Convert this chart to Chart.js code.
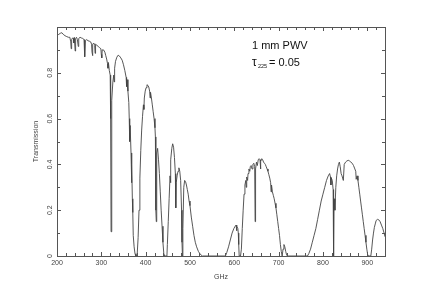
<!DOCTYPE html>
<html>
<head>
<meta charset="utf-8">
<script src="https://cdn.jsdelivr.net/npm/chart.js@4"></script>
<style>
  html, body { margin: 0; padding: 0; background: #fff; }
  canvas { display: block; }
</style>
</head>
<body>
<canvas id="atmChart" width="424" height="307"></canvas>
<script>
// transmission, one pair of arrays per window (GHz, fraction)
const band1Freq = [200, 204, 208, 211, 214, 218, 222, 226, 229, 231, 232, 233, 235, 237, 238, 239, 241, 242, 244, 246, 248, 249, 252, 255, 258, 261, 262, 263, 264, 267, 270, 273, 276, 278, 279, 280, 281, 283, 285, 286, 287, 290, 293, 296, 299, 300, 301, 302, 305, 308, 310, 312, 314, 315, 316, 318, 320, 321, 322, 323, 324, 326, 328, 329, 330, 332, 335, 338, 341, 344, 347, 350, 353, 356, 357, 358, 360, 362, 363, 364, 365, 367, 368, 369, 370, 371, 372, 374, 376, 378];
const band1Trans = [0.962, 0.968, 0.973, 0.975, 0.968, 0.962, 0.958, 0.955, 0.955, 0.935, 0.905, 0.945, 0.952, 0.95, 0.93, 0.955, 0.895, 0.95, 0.955, 0.945, 0.915, 0.95, 0.955, 0.952, 0.95, 0.945, 0.905, 0.87, 0.94, 0.945, 0.94, 0.938, 0.935, 0.925, 0.89, 0.875, 0.925, 0.93, 0.92, 0.885, 0.925, 0.92, 0.915, 0.91, 0.905, 0.88, 0.865, 0.9, 0.9, 0.89, 0.875, 0.86, 0.84, 0.82, 0.845, 0.81, 0.79, 0.6, 0.106, 0.45, 0.68, 0.76, 0.79, 0.76, 0.82, 0.85, 0.868, 0.877, 0.873, 0.865, 0.855, 0.835, 0.81, 0.78, 0.74, 0.77, 0.72, 0.67, 0.6, 0.5, 0.57, 0.45, 0.32, 0.4, 0.25, 0.19, 0.09, 0.04, 0.01, 0];

const band2Freq = [380, 381, 383, 385, 387, 389, 391, 393, 395, 396, 397, 399, 401, 403, 405, 407, 409, 410, 411, 413, 415, 417, 419, 421, 422, 423, 424, 425, 427, 429, 431, 433, 435, 437, 439, 441, 443, 448, 449, 451, 453, 455, 456, 457, 459, 461, 463, 465, 467, 468, 469, 471, 473, 475, 477, 479, 481, 482, 483, 484, 486, 488, 490, 492, 494, 496, 498, 500, 503, 506, 509, 512, 515, 519, 523, 528];
const band2Trans = [0, 0.01, 0.08, 0.2, 0.34, 0.46, 0.55, 0.61, 0.66, 0.64, 0.69, 0.72, 0.735, 0.748, 0.745, 0.738, 0.72, 0.69, 0.715, 0.69, 0.66, 0.63, 0.6, 0.56, 0.52, 0.2, 0.15, 0.45, 0.47, 0.42, 0.36, 0.28, 0.2, 0.13, 0.06, 0.01, 0, 0, 0.05, 0.15, 0.25, 0.35, 0.32, 0.42, 0.47, 0.49, 0.475, 0.43, 0.36, 0.21, 0.32, 0.35, 0.37, 0.385, 0.37, 0.33, 0.2, 0.06, 0, 0.12, 0.3, 0.33, 0.325, 0.31, 0.29, 0.27, 0.24, 0.22, 0.17, 0.13, 0.09, 0.06, 0.04, 0.02, 0.008, 0];

const band3Freq = [580, 583, 587, 591, 595, 599, 602, 604, 605, 606, 608, 609, 610, 611, 614, 616, 618, 620, 622, 624, 626, 627, 628, 630, 631, 633, 635, 636, 638, 640, 642, 644, 646, 647, 648, 650, 652, 654, 656, 658, 659, 660, 662, 664, 666, 668, 670, 672, 674, 676, 678, 680, 682, 683, 684, 686, 688, 690, 692, 694, 696, 698, 700, 702, 704, 706, 708, 710, 712, 714, 716, 718, 720];
const band3Trans = [0, 0.015, 0.04, 0.07, 0.1, 0.12, 0.13, 0.135, 0.11, 0.13, 0.12, 0.1, 0.05, 0, 0, 0.03, 0.12, 0.2, 0.27, 0.31, 0.33, 0.3, 0.345, 0.33, 0.36, 0.38, 0.37, 0.39, 0.395, 0.38, 0.4, 0.405, 0.39, 0.15, 0.38, 0.41, 0.395, 0.42, 0.425, 0.42, 0.38, 0.415, 0.425, 0.42, 0.41, 0.405, 0.4, 0.39, 0.38, 0.37, 0.355, 0.34, 0.32, 0.28, 0.31, 0.28, 0.265, 0.25, 0.23, 0.21, 0.18, 0.15, 0.12, 0.09, 0.05, 0.02, 0, 0.03, 0.05, 0.04, 0.02, 0.005, 0];

const band4Freq = [765, 768, 772, 776, 780, 784, 788, 792, 796, 800, 804, 808, 812, 815, 817, 818, 819, 821, 823, 824, 825, 827, 829, 831, 833, 835, 837, 839, 841, 843, 846, 848, 851, 854, 857, 860, 863, 866, 869, 872, 874, 875, 877, 879, 881, 883, 885, 887, 889, 891, 893, 895, 897, 899, 901, 903, 908, 910, 912, 914, 916, 918, 920, 923, 926, 929, 932, 935, 938, 940];
const band4Trans = [0, 0.01, 0.03, 0.06, 0.09, 0.12, 0.16, 0.2, 0.24, 0.27, 0.3, 0.33, 0.35, 0.36, 0.345, 0.31, 0.34, 0.33, 0.29, 0, 0.25, 0.2, 0.3, 0.35, 0.38, 0.4, 0.41, 0.39, 0.36, 0.35, 0.33, 0.4, 0.41, 0.415, 0.418, 0.415, 0.41, 0.405, 0.395, 0.38, 0.37, 0.335, 0.35, 0.33, 0.3, 0.27, 0.24, 0.21, 0.18, 0.15, 0.12, 0.09, 0.06, 0.03, 0.005, 0, 0, 0.03, 0.07, 0.1, 0.125, 0.14, 0.155, 0.16, 0.158, 0.15, 0.135, 0.12, 0.1, 0.084];

const xTickValues = [200, 300, 400, 500, 600, 700, 800, 900];
const yTickValues = [0, 0.2, 0.4, 0.6, 0.8];

const freqGHz = band1Freq.concat(band2Freq, band3Freq, band4Freq);
const transmission = band1Trans.concat(band2Trans, band3Trans, band4Trans);
const points = freqGHz.map((f, i) => ({ x: f, y: transmission[i] }));

// frame, inward ticks, labels and the note in the corner
const framePlugin = {
  id: 'frame',
  afterDraw(chart) {
    const ctx = chart.ctx;
    const a = chart.chartArea;
    const xs = chart.scales.x;
    const ys = chart.scales.y;
    ctx.save();
    ctx.strokeStyle = '#555';
    ctx.lineWidth = 1;
    ctx.strokeRect(a.left + 0.5, a.top + 0.5, a.right - a.left, a.bottom - a.top);

    ctx.beginPath();
    for (let v = 200; v <= 940; v += 20) {
      const px = Math.round(xs.getPixelForValue(v)) + 0.5;
      const len = v % 100 === 0 ? 4 : 3;
      ctx.moveTo(px, a.bottom); ctx.lineTo(px, a.bottom - len);
      ctx.moveTo(px, a.top); ctx.lineTo(px, a.top + len);
    }
    for (let i = 0; i <= 9; i++) {
      const py = Math.round(ys.getPixelForValue(i / 10)) + 0.5;
      const len = i % 2 === 0 ? 4 : 3;
      ctx.moveTo(a.left, py); ctx.lineTo(a.left + len, py);
      ctx.moveTo(a.right, py); ctx.lineTo(a.right - len, py);
    }
    ctx.stroke();

    ctx.fillStyle = '#444';
    ctx.font = '7px "Liberation Sans", Arial, sans-serif';
    ctx.textAlign = 'center';
    ctx.textBaseline = 'middle';
    xTickValues.forEach(v => {
      ctx.fillText(String(v), xs.getPixelForValue(v), a.bottom + 7);
    });
    yTickValues.forEach(v => {
      ctx.save();
      ctx.translate(a.left - 7, ys.getPixelForValue(v));
      ctx.rotate(-Math.PI / 2);
      ctx.fillText(String(v), 0, 0);
      ctx.restore();
    });

    ctx.fillText('GHz', (a.left + a.right) / 2, 277);
    ctx.save();
    ctx.translate(36, (a.top + a.bottom) / 2);
    ctx.rotate(-Math.PI / 2);
    ctx.fillText('Transmission', 0, 0);
    ctx.restore();

    ctx.fillStyle = '#111';
    ctx.textAlign = 'left';
    ctx.textBaseline = 'alphabetic';
    ctx.font = '11px "Liberation Sans", Arial, sans-serif';
    ctx.fillText('1 mm PWV', 252, 49);
    ctx.font = '12px "Liberation Sans", Arial, sans-serif';
    ctx.fillText('\u03c4', 252, 66);
    ctx.font = '5.5px "Liberation Sans", Arial, sans-serif';
    ctx.fillText('225', 258, 68);
    ctx.font = '11px "Liberation Sans", Arial, sans-serif';
    ctx.fillText('= 0.05', 269, 66);
    ctx.restore();
  }
};

new Chart(document.getElementById('atmChart').getContext('2d'), {
  type: 'line',
  data: {
    datasets: [{
      data: points,
      borderColor: '#444',
      borderWidth: 0.9,
      pointRadius: 0,
      tension: 0,
      fill: false
    }]
  },
  options: {
    responsive: false,
    animation: false,
    devicePixelRatio: 1,
    layout: { padding: { top: 27, right: 39, left: 0, bottom: 0 } },
    plugins: { legend: { display: false }, tooltip: { enabled: false } },
    scales: {
      x: {
        type: 'linear',
        min: 200,
        max: 940,
        grid: { display: false },
        border: { display: false },
        ticks: { display: false },
        afterFit: s => { s.height = 51; }
      },
      y: {
        min: 0,
        max: 1,
        grid: { display: false },
        border: { display: false },
        ticks: { display: false },
        afterFit: s => { s.width = 57; }
      }
    }
  },
  plugins: [framePlugin]
});
</script>
</body>
</html>
